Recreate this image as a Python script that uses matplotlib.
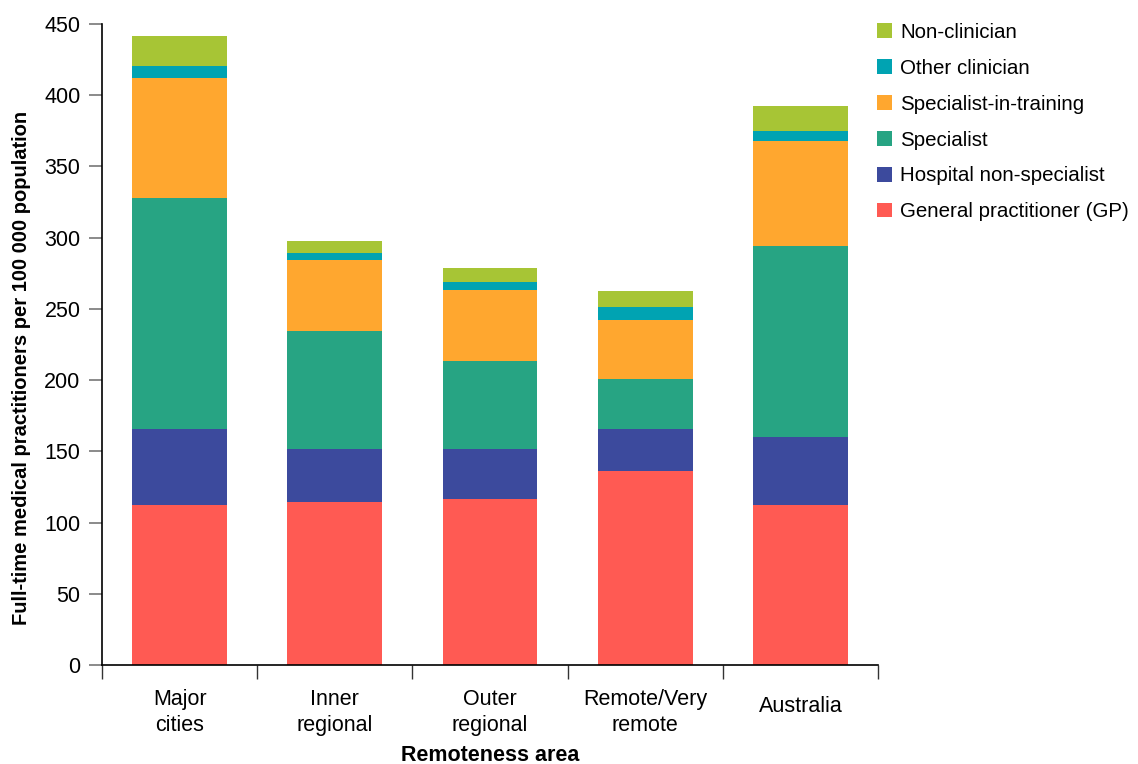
import matplotlib
matplotlib.use("Agg")
import matplotlib.pyplot as plt
import numpy as np
from matplotlib.patches import Patch

plt.rcParams['font.family'] = ['Liberation Sans', 'DejaVu Sans']

categories = ["Major\ncities", "Inner\nregional", "Outer\nregional", "Remote/Very\nremote", "Australia"]
series_names = ["General practitioner (GP)", "Hospital non-specialist", "Specialist",
                "Specialist-in-training", "Other clinician", "Non-clinician"]
gp = [112.1, 114.2, 116.4, 136.0, 112.1]
hospital = [53.3, 37.2, 35.0, 30.0, 47.7]
specialist = [162.7, 83.4, 61.7, 34.5, 134.6]
sit = [84.3, 49.8, 50.4, 42.0, 73.6]
other = [8.3, 4.9, 5.6, 9.1, 7.0]
nonclin = [21.1, 8.4, 9.8, 11.2, 17.5]
colors = ["#FF5A53", "#3C4A9D", "#27A483", "#FFA72F", "#00A3B2", "#A7C535"]

values = [gp, hospital, specialist, sit, other, nonclin]

FS = 15.5

fig = plt.figure(figsize=(11.38, 7.64), dpi=100)
ax = fig.add_axes([102/1138, 1-665/764, (878-102)/1138, (665-24)/764])

x = np.arange(len(categories))
bottom = np.zeros(len(categories))
handles = []
for name, vals, col in zip(series_names, values, colors):
    ax.bar(x, vals, bottom=bottom, width=0.61, color=col, label=name)
    bottom += np.array(vals)
    handles.append(Patch(facecolor=col, label=name))

ax.set_xlim(-0.5, 4.5)
ax.set_ylim(0, 450)
ax.set_yticks(np.arange(0, 451, 50))
ax.tick_params(axis='y', length=9.5, width=1.2, color='#777777', labelsize=FS, pad=6)
for s in ['top', 'right']:
    ax.spines[s].set_visible(False)
ax.spines['left'].set_linewidth(1.2)
ax.spines['bottom'].set_linewidth(1.2)

ax.set_xticks(x)
ax.set_xticklabels([])
ax.tick_params(axis='x', which='major', length=0)
ax.set_xticks(np.arange(-0.5, 4.6, 1), minor=True)
ax.tick_params(axis='x', which='minor', length=10, width=1.0, color='#333333')

trans = ax.get_xaxis_transform()
for i, lab in enumerate(categories):
    yoff = -0.074 if "\n" in lab else -0.064
    ax.text(i, yoff, lab, transform=trans, ha='center', va='center',
            fontsize=FS, linespacing=1.3)

ax.text(0.5, -0.1415, "Remoteness area", transform=ax.transAxes, ha='center', va='center',
        fontsize=FS, fontweight='bold')
fig.text(0.019, 1-368/764, "Full-time medical practitioners per 100 000 population",
         rotation=90, ha='center', va='center', fontsize=14.5, fontweight='bold')

fig.legend(handles=handles[::-1], loc='upper left', bbox_to_anchor=(877/1138, 1-23/764),
           frameon=False, fontsize=14.8, handlelength=0.72, handleheight=0.72,
           handletextpad=0.4, labelspacing=0.82, borderaxespad=0, borderpad=0)

fig.savefig("out.png", dpi=100)
